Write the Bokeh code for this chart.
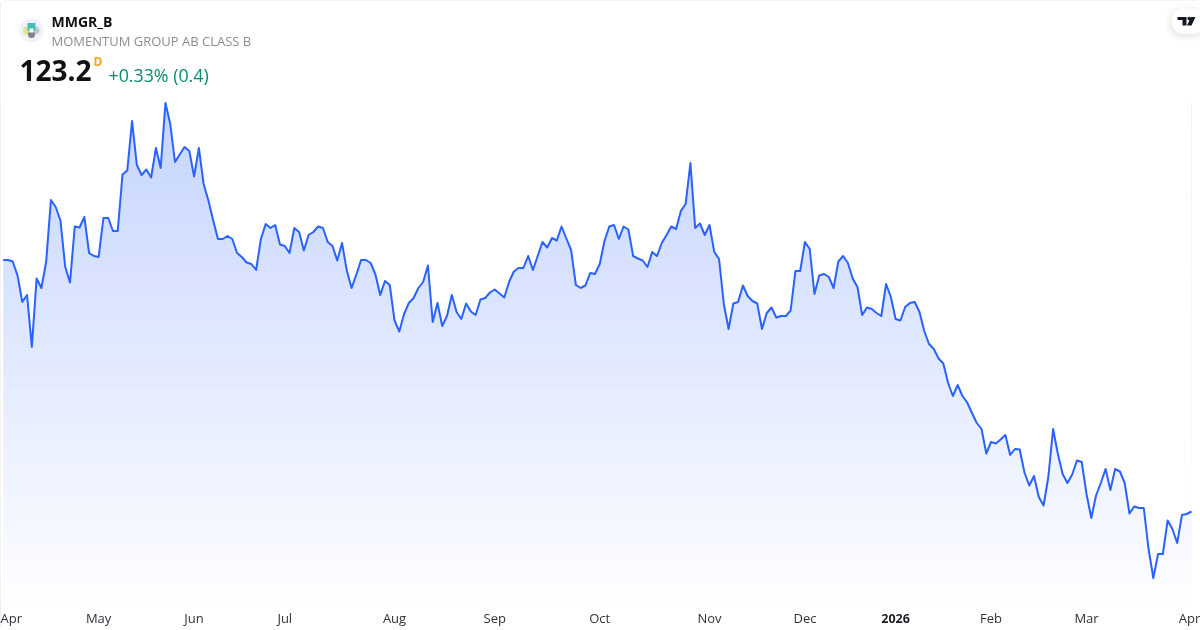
from bokeh.plotting import figure
from bokeh.models import ColumnDataSource, FixedTicker, LinearAxis, BoxAnnotation, Range1d
from bokeh.core.properties import value
from bokeh.embed import file_html
from bokeh.resources import INLINE
import numpy as np

symbol = "MMGR_B"
company = "MOMENTUM GROUP AB CLASS B"
last_price = "123.2"
interval = "D"
change = "+0.33% (0.4)"

tick_index = [1.6, 20, 40, 59, 82, 103, 125, 148, 168, 187, 207, 227, 248.6]
tick_labels = ["Apr", "May", "Jun", "Jul", "Aug", "Sep", "Oct", "Nov", "Dec", "2026", "Feb", "Mar", "Apr"]

close_apr_jun = [
    173.5, 173.5, 173.2, 170.4, 165.1, 166.5, 156.1, 169.8, 167.9, 173.1, 185.5, 184.1, 181.4, 172.1, 169.0, 180.2,
    180.0, 182.1, 174.9, 174.3, 174.1, 181.9, 181.9, 179.3, 179.3, 190.6, 191.4, 201.3, 192.5, 190.5, 191.6, 190.0,
    195.9, 191.9, 204.9, 200.7, 193.1, 194.6, 196.1, 195.3, 190.2, 195.9, 188.7, 185.4, 181.4, 177.7, 177.7, 178.3,
    177.7, 174.9, 174.1, 173.0, 172.7, 171.5, 177.7, 180.7, 179.9, 180.5, 176.6, 176.3, 174.9, 179.9, 179.1,
]
close_jul_sep = [
    175.4, 178.5, 179.1, 180.2, 179.9, 177.1, 176.3, 173.4, 176.9, 171.4, 167.9, 170.6, 173.5, 173.5, 172.9, 170.6,
    166.5, 169.3, 168.5, 161.4, 159.2, 162.7, 164.9, 165.9, 167.9, 169.1, 172.4, 161.1, 164.9, 160.3, 162.3, 166.5,
    163.1, 161.7, 164.8, 163.2, 162.5, 165.6, 165.9, 167.0, 167.6, 166.8, 166.0, 169.1, 171.2, 171.9, 171.9, 174.3,
    171.5, 174.3, 177.1, 176.0, 177.9, 177.4, 180.2, 177.8, 175.5, 168.5, 167.9, 168.4, 170.9, 170.7, 172.7,
]
close_oct_dec = [
    177.3, 180.2, 180.5, 177.7, 180.2, 179.6, 174.3, 173.8, 173.4, 172.1, 175.1, 174.3, 176.9, 178.5, 180.2, 179.7,
    183.3, 184.7, 192.9, 179.9, 180.8, 178.5, 180.5, 175.1, 173.7, 164.7, 159.7, 164.8, 165.1, 168.4, 166.3, 165.3,
    164.8, 159.7, 162.9, 164.0, 162.0, 162.3, 162.3, 163.4, 171.3, 171.3, 177.1, 175.7, 166.7, 170.4, 170.7, 170.1,
    167.9, 173.2, 174.3, 172.9, 169.8, 168.1, 162.5, 164.0, 163.7, 162.9, 162.3, 168.7, 166.1, 161.7, 161.4,
]
close_jan_apr = [
    164.1, 164.9, 165.1, 163.1, 159.3, 156.7, 155.7, 153.8, 152.8, 148.9, 146.3, 148.5, 146.3, 145.0, 142.9, 140.9,
    139.7, 134.8, 137.1, 136.8, 137.6, 138.5, 134.5, 135.7, 135.6, 131.0, 128.4, 130.3, 126.1, 124.4, 130.1, 139.7,
    134.7, 130.7, 128.9, 130.6, 133.4, 133.1, 126.7, 121.9, 126.4, 128.9, 131.7, 127.5, 131.7, 131.2, 128.9, 122.8,
    124.2, 123.9, 123.9, 115.7, 109.9, 114.7, 114.7, 121.4, 119.7, 116.9, 122.5, 122.7, 123.2,
]
close = close_apr_jun + close_jul_sep + close_oct_dec + close_jan_apr
idx = list(range(len(close)))

W, FRAME_H = 1200, 605
STEP = (1191 - 2.7) / (len(close) - 1)
X0 = -2.7 / STEP
Y_TOP = 225.4
PX_UNIT = 0.2
Y_BOTTOM = Y_TOP - PX_UNIT * FRAME_H


def px(x):
    return X0 + x / STEP


def py(y):
    return Y_TOP - PX_UNIT * y


p = figure(frame_width=W, frame_height=FRAME_H, output_backend="svg", toolbar_location=None,
           x_range=Range1d(X0, X0 + W / STEP), y_range=Range1d(Y_BOTTOM, Y_TOP),
           x_axis_location=None, y_axis_location=None, min_border=0,
           background_fill_color="#ffffff", border_fill_color="#ffffff", outline_line_color=None)
p.styles = {"position": "fixed", "left": "0px", "top": "0px",
            "outline": "1px solid #e6e7ea", "outline-offset": "-1px", "border-radius": "4px"}
p.xgrid.visible = False
p.ygrid.visible = False

# axes: regular months, then the bold year label pulled back on to the same row
axis = LinearAxis(ticker=FixedTicker(ticks=tick_index),
                  major_label_overrides={t: (l if l != "2026" else "") for t, l in zip(tick_index, tick_labels)},
                  axis_line_color=None, major_tick_line_color=None, minor_tick_line_color=None,
                  major_tick_out=0, major_tick_in=0,
                  major_label_text_font="Open Sans", major_label_text_font_size="13px",
                  major_label_text_color="#2f3238", major_label_standoff=3)
p.add_layout(axis, "below")
bold_year = tick_index[tick_labels.index("2026")]
axis_year = LinearAxis(ticker=FixedTicker(ticks=[bold_year]), major_label_overrides={bold_year: "2026"},
                       axis_line_color=None, major_tick_line_color=None, minor_tick_line_color=None,
                       major_tick_out=0, major_tick_in=0,
                       major_label_text_font="Open Sans", major_label_text_font_size="12.5px",
                       major_label_text_font_style="bold",
                       major_label_text_color="#1c1e24", major_label_standoff=-16)
p.add_layout(axis_year, "below")

# gradient under the curve: colour bands, then white mask above the series
GRAD_TOP, GRAD_BOTTOM = 103, 612
bands_y = np.arange(GRAD_TOP, GRAD_BOTTOM, 2.0)
cols = []
for b in bands_y:
    a = 0.28 * (GRAD_BOTTOM - b) / (GRAD_BOTTOM - GRAD_TOP)
    cols.append("#%02x%02x%02x" % (round(255 - 214 * a), round(255 - 157 * a), 255))
p.hbar(y=[py(b + 1) for b in bands_y], height=PX_UNIT * 2.4, left=idx[0], right=idx[-1], color=cols, line_color=None)
src = ColumnDataSource(dict(x=idx, y=close, top=[Y_TOP] * len(close)))
p.varea(x="x", y1="y", y2="top", source=src, fill_color="#ffffff")
p.line(x="x", y="y", source=src, line_color="#2962ff", line_width=2, line_join="round")

# header: logo
p.scatter([px(31)], [py(30)], size=24, marker="circle", fill_color="#eff2f9", line_color=None)
p.scatter([px(26.5)], [py(30)], size=8, marker="circle", fill_color="#dfe38a", line_color=None)
p.scatter([px(35)], [py(30)], size=8, marker="circle", fill_color="#c9cacb", line_color=None)
p.scatter([px(31)], [py(26.5)], size=8, marker="square", fill_color="#3fc1b8", line_color=None)
p.scatter([px(31)], [py(34)], size=7, marker="circle", fill_color="#7f8186", line_color=None)
p.scatter([px(31)], [py(30)], size=4, marker="square", fill_color="#ffffff", line_color=None)


def text(x, y, s, size, color, style="normal"):
    p.text([px(x)], [py(y)], text=[s], text_font=value("Open Sans"), text_font_size=size, text_color=color,
           text_font_style=style, text_baseline="middle", text_align="left")


text(51, 20.5, symbol, "14px", "#111111", "bold")
text(51, 40, company, "13px", "#8a8d93")
text(19, 70, last_price, "28px", "#111111", "bold")
text(93, 61, interval, "12px", "#f9a21a", "bold")
text(108, 74, change, "17.8px", "#0b8a72")

# badge
for grow, alpha in [(6, 0.012), (4, 0.02), (2, 0.03)]:
    p.add_layout(BoxAnnotation(left=px(1171 - grow), right=px(1205), top=py(8 - grow + 2), bottom=py(33 + grow + 2),
                               fill_color="#000000", fill_alpha=alpha, line_color=None, border_radius=14))
p.add_layout(BoxAnnotation(left=px(1171), right=px(1205), top=py(8), bottom=py(33),
                           fill_color="#ffffff", fill_alpha=1, line_color=None, border_radius=12))
p.patches([[px(v) for v in (1177, 1186, 1186, 1182, 1182, 1177)], [px(v) for v in (1190.5, 1195, 1191, 1186.5)]],
          [[py(v) for v in (16.5, 16.5, 25, 25, 19.5, 19.5)], [py(v) for v in (16.5, 16.5, 25, 25)]],
          fill_color="#131722", line_color=None, level="overlay")
p.scatter([px(1188.6)], [py(18)], size=3.4, marker="circle", fill_color="#131722", line_color=None, level="overlay")

open("out.html", "w").write(file_html(p, INLINE))
